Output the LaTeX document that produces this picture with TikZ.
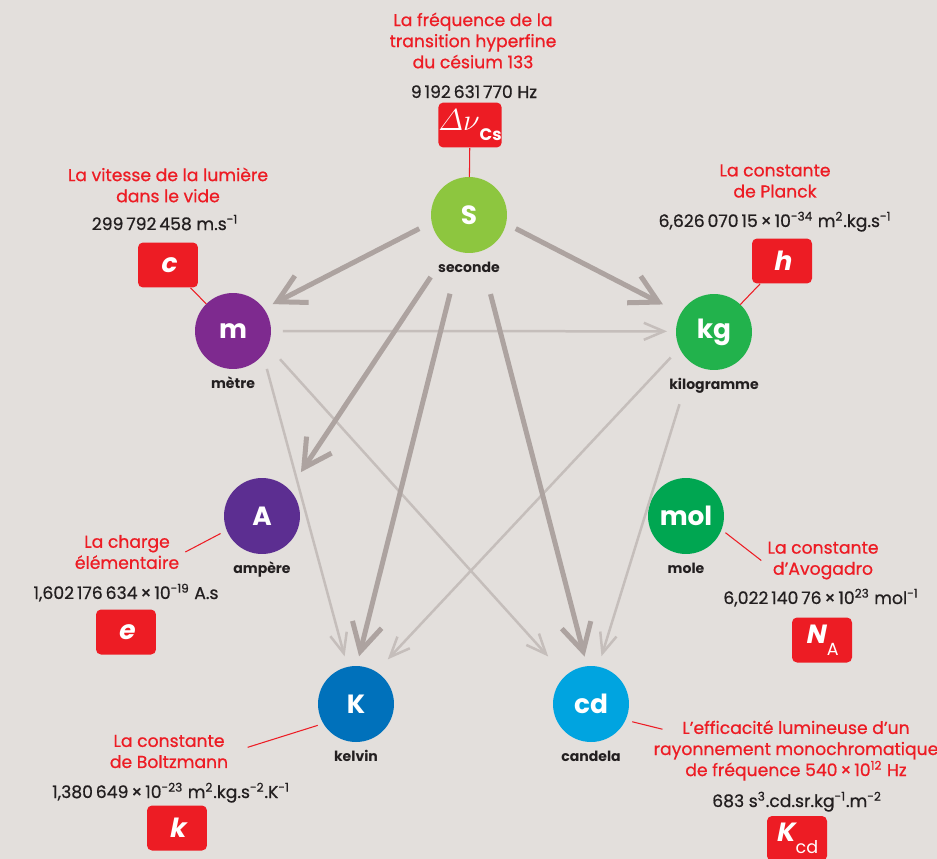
\documentclass[tikz,border=0pt]{standalone}
\usepackage{fontspec}
\usepackage{amsmath}
\setmainfont{Poppins}
\newfontfamily\slantsans[FakeSlant=0.2]{Poppins}
\newfontfamily\mediumsans[FakeBold=0.7]{Poppins}
\usetikzlibrary{arrows.meta}

\definecolor{bgGray}{HTML}{E3DFDC}
\definecolor{cstRed}{HTML}{ED1C24}
\definecolor{inkBlack}{HTML}{231F20}
\definecolor{arrowDark}{HTML}{ADA3A0}
\definecolor{arrowLight}{HTML}{C5BEBB}
\definecolor{sGreen}{HTML}{8DC63F}
\definecolor{mPurple}{HTML}{7E2A8F}
\definecolor{kgGreen}{HTML}{22B24C}
\definecolor{aPurple}{HTML}{5C2E91}
\definecolor{molGreen}{HTML}{00A651}
\definecolor{kBlue}{HTML}{0071BB}
\definecolor{cdBlue}{HTML}{00A4E0}

\tikzset{
    unit/.style={circle, fill=#1, minimum size=1.52cm, inner sep=0pt, outer sep=0pt,
        text=white, font=\fontsize{15}{15}\selectfont\bfseries},
    unitname/.style={anchor=base, text=inkBlack, font=\fontsize{8}{9}\selectfont\bfseries},
    cstbox/.style={fill=cstRed, rounded corners=0.1cm, minimum width=1.2cm, minimum height=0.9cm,
        inner sep=0pt, text=white, font=\fontsize{15}{15}\selectfont\slantsans},
    csttext/.style={align=center, text=cstRed, font=\fontsize{9.8}{12}\selectfont\mediumsans},
    cstvalue/.style={anchor=base, text=inkBlack, font=\fontsize{9.8}{12}\selectfont\mediumsans},
    link/.style={draw=cstRed, line width=0.6pt},
    bigarrow/.style={draw=arrowDark, line width=0.1cm, -{Straight Barb[length=0.55cm, width=0.6cm]}},
    smallarrow/.style={draw=arrowLight, line width=0.05cm, -{Straight Barb[length=0.4cm, width=0.34cm]}}
}

\def\Units{
    \node[unit=sGreen] (s) at (469,215) {S};
    \node[unit=mPurple] (m) at (233,331) {m};
    \node[unit=kgGreen] (kg) at (714,332) {kg};
    \node[unit=aPurple] (A) at (262,516) {A};
    \node[unit=molGreen] (mol) at (686,516) {mol};
    \node[unit=kBlue] (K) at (356,704) {K};
    \node[unit=cdBlue] (cd) at (591,704) {cd};
    \foreach \id/\word in {s/seconde, m/mètre, kg/kilogramme, A/ampère, mol/mole, K/kelvin, cd/candela}
        \node[unitname] (\id-name) at ([yshift=-1.16cm]\id.center) {\word};
}

\begin{document}
\begin{tikzpicture}[x=0.02cm, y=-0.02cm]
    \path[use as bounding box, fill=bgGray] (0,0) rectangle (937,859);
    \Units

    \draw[smallarrow, shorten <=0.24cm, shorten >=0.18cm] (m.0) -- (kg.179);
    \draw[smallarrow, shorten <=0.3cm, shorten >=0.22cm] (m.322) -- (K.103);
    \draw[smallarrow, shorten <=0.36cm, shorten >=0.52cm] (m.337) -- (cd.132);
    \draw[smallarrow, shorten <=0.26cm, shorten >=0.34cm] (kg.205) -- (K.58);
    \draw[smallarrow, shorten <=0.86cm, shorten >=0.22cm] (kg.235) -- (cd.79);
    \draw[bigarrow, shorten <=0.28cm, shorten >=0.2cm] (s.191) -- (m.36);
    \draw[bigarrow, shorten <=0.22cm, shorten >=0.4cm] (s.347) -- (kg.151);
    \draw[bigarrow, shorten <=0.7cm, shorten >=0.42cm] (s.240) -- (A.44);
    \draw[bigarrow, shorten <=0.86cm, shorten >=0.2cm] (s.257) -- (K.89);
    \draw[bigarrow, shorten <=0.88cm, shorten >=0.2cm] (s.286) -- (cd.96);

    \node[csttext] (dnu-text) at (473,40.5) {La fréquence de la\\transition hyperfine\\du césium 133};
    \node[cstvalue] (dnu-value) at (474,98) {9\,192\,631\,770 Hz};
    \node[cstbox] (dnu) at (470,125) {{\fontsize{17.5}{17.5}\selectfont$\varDelta\nu$}\raisebox{-0.7ex}{\fontsize{9.5}{9.5}\selectfont\normalfont\bfseries Cs}};

    \node[csttext] (c-text) at (168,185) {La vitesse de la lumière\\dans le vide};
    \node[cstvalue] (c-value) at (165,230) {299\,792\,458 m.s\textsuperscript{-1}};
    \node[cstbox] (c) at (168,265) {\bfseries c};

    \node[csttext] (h-text) at (775,181) {La constante\\de Planck};
    \node[cstvalue] (h-value) at (775,227) {6,626\,070\,15\,×\,10\textsuperscript{-34} m\textsuperscript{2}.kg.s\textsuperscript{-1}};
    \node[cstbox] (h) at (782,261) {\bfseries h};

    \node[csttext] (e-text) at (127,552) {La charge\\élémentaire};
    \node[cstvalue] (e-value) at (126,599) {1,602\,176\,634\,×\,10\textsuperscript{-19} A.s};
    \node[cstbox] (e) at (126,632) {\bfseries e};

    \node[csttext] (NA-text) at (823,560.5) {La constante\\d’Avogadro};
    \node[cstvalue] (NA-value) at (821,604) {6,022\,140\,76\,×\,10\textsuperscript{23} mol\textsuperscript{-1}};
    \node[cstbox] (NA) at (822,640) {{\bfseries N}\kern0.06em\raisebox{-0.8ex}{\fontsize{10}{10}\selectfont\normalfont A}};

    \node[csttext] (k-text) at (169,751.5) {La constante\\de Boltzmann};
    \node[cstvalue] (k-value) at (171,798) {1,380\,649\,×\,10\textsuperscript{-23} m\textsuperscript{2}.kg.s\textsuperscript{-2}.K\textsuperscript{-1}};
    \node[cstbox] (k) at (177,828) {\bfseries k};

    \node[csttext] (Kcd-text) at (796,750.5) {L’efficacité lumineuse d’un\\rayonnement monochromatique\\de fréquence 540\,×\,10\textsuperscript{12} Hz};
    \node[cstvalue] (Kcd-value) at (797,807) {683 s\textsuperscript{3}.cd.sr.kg\textsuperscript{-1}.m\textsuperscript{-2}};
    \node[cstbox] (Kcd) at (797,838.5) {{\bfseries K}\kern0.06em\raisebox{-0.8ex}{\fontsize{10}{10}\selectfont\normalfont cd}};

    % \draw[red] (Kcd-text.north west) rectangle (Kcd-text.south east);
    \draw[link] (dnu) -- (s);
    \draw[link] (c) -- (m);
    \draw[link] (h) -- (kg);
    \draw[link, shorten >=0.14cm] (e-text.east) -- (A.202);
    \draw[link, shorten <=0.1cm] (mol.339) -- (NA-text.west);
    \draw[link, shorten <=0.28cm, shorten >=0.12cm] (k-text.east) -- (K.211);
    \draw[link, shorten <=0.14cm] (cd.335) -- ([xshift=0.3cm, yshift=-0.3cm]Kcd-text.north west);
\end{tikzpicture}
\end{document}
